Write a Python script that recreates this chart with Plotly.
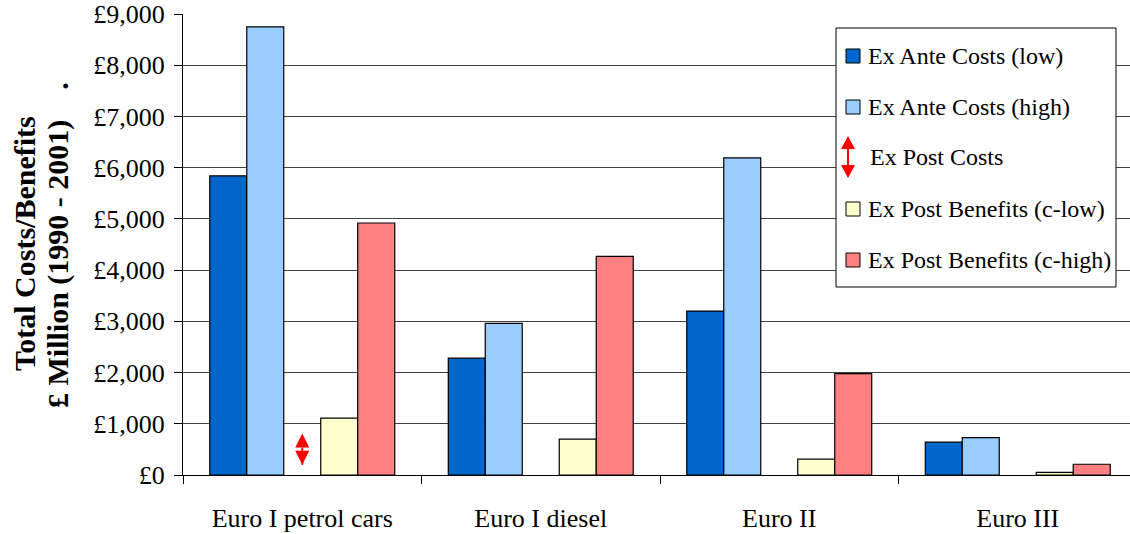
import plotly.graph_objects as go

# Categories and series values (£ million, 1990-2001)
categories = ["Euro I petrol cars", "Euro I diesel", "Euro II", "Euro III"]
ex_ante_low = [5840, 2280, 3200, 640]
ex_ante_high = [8750, 2960, 6190, 730]
ex_post_costs_low = [200, None, None, None]
ex_post_costs_high = [810, None, None, None]
ex_post_benefits_low = [1110, 700, 310, 50]
ex_post_benefits_high = [4920, 4270, 1980, 210]

series_names = [
    "Ex Ante Costs (low)",
    "Ex Ante Costs (high)",
    "Ex Post Costs",
    "Ex Post Benefits (c-low)",
    "Ex Post Benefits (c-high)",
]
colors = ["#0066CC", "#99CCFF", "#FF0000", "#FFFFCC", "#FF8080"]

W, H = 1130, 534
L, R, T, B = 183, 0, 14, 59
plot_w = W - L - R
plot_h = H - T - B
cat_px = 238.5                     # pixel width of one category
x_max = -0.5 + plot_w / cat_px
slot = 0.1551                      # width of one bar slot (category units)

FONT = "Liberation Serif, Times New Roman, serif"

fig = go.Figure()

bar_series = [
    (0, ex_ante_low),
    (1, ex_ante_high),
    (3, ex_post_benefits_low),
    (4, ex_post_benefits_high),
]
for k, vals in bar_series:
    fig.add_trace(go.Bar(
        x=categories, y=vals, name=series_names[k],
        offset=-2.5 * slot + k * slot, width=slot,
        marker=dict(color=colors[k], line=dict(color="#000000", width=1.2)),
        showlegend=False,
    ))

# Ex post cost ranges as double-headed arrows in the middle slot
for c, lo, hi in zip(categories, ex_post_costs_low, ex_post_costs_high):
    if lo is None or hi is None:
        continue
    fig.add_trace(go.Scatter(
        x=[c, c], y=[lo, hi], mode="lines+markers", name=series_names[2],
        line=dict(color=colors[2], width=2),
        marker=dict(symbol=["arrow-down", "arrow-up"], size=14,
                    color=colors[2], line=dict(width=0)),
        showlegend=False,
    ))


def px_x(p):
    return (p - L) / plot_w


def px_y(p):
    return (H - B - p) / plot_h


shapes = []
annotations = []

# Legend box
lx0, ly0, lx1, ly1 = 836, 28, 1116, 287
shapes.append(dict(type="rect", xref="paper", yref="paper",
                   x0=px_x(lx0), x1=px_x(lx1), y0=px_y(ly1), y1=px_y(ly0),
                   line=dict(color="#000000", width=1), fillcolor="#FFFFFF",
                   layer="above"))
item_y = [56, 107, 157, 209, 260]
sw_x0, sw_x1 = 846, 860
text_x = 866
for i, (name, col) in enumerate(zip(series_names, colors)):
    yc = item_y[i]
    if i == 2:
        ax = 848
        top, bot = yc - 21, yc + 21
        hw, hh = 7, 13
        shapes.append(dict(type="line", xref="paper", yref="paper",
                           x0=px_x(ax), x1=px_x(ax), y0=px_y(top + hh), y1=px_y(bot - hh),
                           line=dict(color=col, width=2), layer="above"))
        up = "M {},{} L {},{} L {},{} Z".format(
            px_x(ax), px_y(top), px_x(ax - hw), px_y(top + hh), px_x(ax + hw), px_y(top + hh))
        dn = "M {},{} L {},{} L {},{} Z".format(
            px_x(ax), px_y(bot), px_x(ax - hw), px_y(bot - hh), px_x(ax + hw), px_y(bot - hh))
        for p in (up, dn):
            shapes.append(dict(type="path", xref="paper", yref="paper", path=p,
                               fillcolor=col, line=dict(width=0), layer="above"))
        tx = text_x + 2
    else:
        shapes.append(dict(type="rect", xref="paper", yref="paper",
                           x0=px_x(sw_x0), x1=px_x(sw_x1),
                           y0=px_y(yc + 7), y1=px_y(yc - 7),
                           fillcolor=col, line=dict(color="#000000", width=1),
                           layer="above"))
        tx = text_x
    annotations.append(dict(xref="paper", yref="paper", x=px_x(tx), y=px_y(yc),
                            xanchor="left", yanchor="middle", showarrow=False,
                            text=name, font=dict(family=FONT, size=24, color="#000000")))

# Y-axis title (two lines)
annotations.append(dict(xref="paper", yref="paper", x=px_x(24), y=px_y(244),
                        xanchor="center", yanchor="middle", showarrow=False,
                        textangle=-90, text="<b>Total Costs/Benefits</b>",
                        font=dict(family=FONT, size=30, color="#000000")))
annotations.append(dict(xref="paper", yref="paper", x=px_x(58), y=px_y(245),
                        xanchor="center", yanchor="middle", showarrow=False,
                        textangle=-90,
                        text="<b>£ Million (1990 - 2001)\u00a0\u00a0\u00a0\u00a0.</b>",
                        font=dict(family=FONT, size=30, color="#000000")))

fig.update_layout(
    width=W, height=H,
    margin=dict(l=L, r=R, t=T, b=B, pad=0),
    paper_bgcolor="#FFFFFF", plot_bgcolor="#FFFFFF",
    barmode="overlay",
    showlegend=False,
    shapes=shapes,
    annotations=annotations,
    font=dict(family=FONT, color="#000000"),
)
fig.update_xaxes(
    type="category", categoryorder="array", categoryarray=categories,
    range=[-0.5, x_max], showgrid=False, zeroline=False,
    showline=True, linecolor="#000000", linewidth=1,
    ticks="outside", tickson="boundaries", ticklen=8, tickcolor="#000000",
    tickfont=dict(family=FONT, size=26, color="#000000"),
    ticklabelstandoff=20,
)
fig.update_yaxes(
    range=[0, 9000], dtick=1000, tick0=0,
    tickprefix="£", tickformat=",d",
    showgrid=True, gridcolor="#404040", gridwidth=1, zeroline=False,
    showline=True, linecolor="#000000", linewidth=1,
    ticks="outside", ticklen=8, tickcolor="#000000",
    tickfont=dict(family=FONT, size=26, color="#000000"),
    ticklabelstandoff=4,
)

fig.write_html("out.html")
